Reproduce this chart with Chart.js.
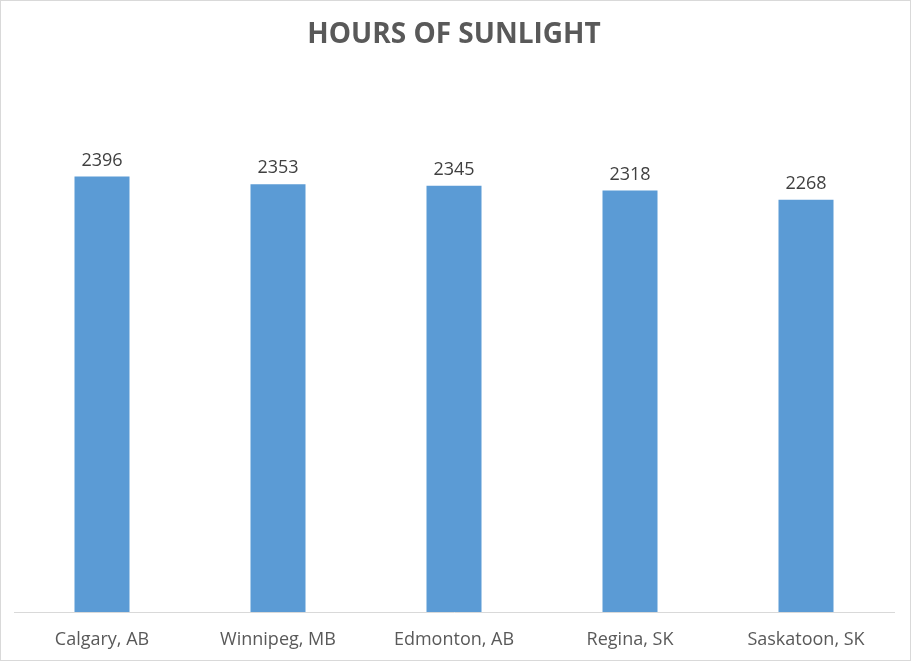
<!DOCTYPE html>
<html>
<head>
<meta charset="utf-8">
<script src="https://cdn.jsdelivr.net/npm/chart.js@4/dist/chart.umd.min.js"></script>
<style>
  html, body { margin: 0; padding: 0; background: #fff; }
  canvas { display: block; }
</style>
</head>
<body>
<canvas id="c" width="911" height="661"></canvas>
<script>
const categories = ["Calgary, AB", "Winnipeg, MB", "Edmonton, AB", "Regina, SK", "Saskatoon, SK"];
const hours = [2396, 2353, 2345, 2318, 2268];
const chartTitle = "HOURS OF SUNLIGHT";
const yMin = 0;
const yMax = 3000;

const frame = {
  id: 'frame',
  beforeDraw(chart) {
    const ctx = chart.ctx;
    ctx.save();
    ctx.fillStyle = '#ffffff';
    ctx.fillRect(0, 0, chart.width, chart.height);
    ctx.strokeStyle = '#d9d9d9';
    ctx.lineWidth = 1;
    ctx.strokeRect(0.5, 0.5, chart.width - 1, chart.height - 1);
    ctx.restore();
  }
};

const valueLabels = {
  id: 'valueLabels',
  afterDatasetsDraw(chart) {
    const ctx = chart.ctx;
    ctx.save();
    ctx.font = '18px "Open Sans"';
    ctx.fillStyle = '#404040';
    ctx.textAlign = 'center';
    ctx.textBaseline = 'bottom';
    chart.data.datasets.forEach((ds, di) => {
      chart.getDatasetMeta(di).data.forEach((bar, i) => {
        ctx.fillText(String(ds.data[i]), bar.x, bar.y - 7);
      });
    });
    ctx.restore();
  }
};

new Chart(document.getElementById('c'), {
  type: 'bar',
  data: {
    labels: categories,
    datasets: [{
      data: hours,
      backgroundColor: '#5b9bd5',
      borderWidth: 0,
      categoryPercentage: 1,
      barPercentage: 0.3125
    }]
  },
  options: {
    responsive: false,
    animation: false,
    layout: { padding: { left: 14, right: 17, top: 0, bottom: 12 } },
    plugins: {
      legend: { display: false },
      tooltip: { enabled: false },
      title: {
        display: true,
        text: chartTitle,
        color: '#595959',
        font: { family: 'Open Sans', size: 28, weight: 'bold', lineHeight: 1.2 },
        padding: { top: 18, bottom: 15 }
      }
    },
    scales: {
      x: {
        grid: { display: true, drawOnChartArea: false, drawTicks: false },
        border: { display: true, color: '#d9d9d9', width: 1 },
        ticks: { color: '#595959', font: { family: 'Open Sans', size: 18, lineHeight: 1.2 }, padding: 17 },
        afterFit(scale) { scale.height = 37; }
      },
      y: {
        display: false,
        min: yMin,
        max: yMax
      }
    }
  },
  plugins: [frame, valueLabels]
});
</script>
</body>
</html>
